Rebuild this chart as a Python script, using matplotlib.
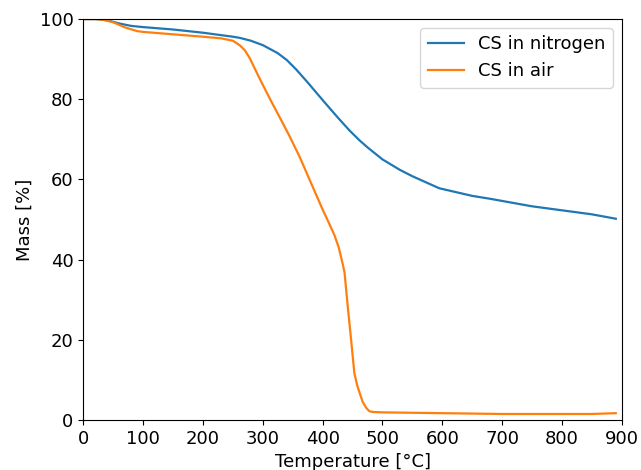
import numpy as np
import matplotlib
matplotlib.use("Agg")
import matplotlib.pyplot as plt

# TGA curves
temp_n2 = [0, 20, 30, 45, 60, 80, 100, 150, 200, 250, 262, 280, 300, 325, 340, 356,
           375, 400, 425, 445, 462, 475, 500, 529, 550, 595, 650, 679, 750, 800,
           850, 890]
mass_n2 = [100, 100, 99.9, 99.5, 98.9, 98.3, 98.0, 97.4, 96.6, 95.6, 95.3, 94.6, 93.5,
           91.5, 89.8, 87.4, 84.2, 79.8, 75.5, 72.2, 69.7, 68.0, 65.0, 62.4, 60.8,
           57.8, 55.9, 55.2, 53.3, 52.3, 51.3, 50.2]

temp_air = [0, 20, 35, 50, 70, 90, 100, 150, 200, 230, 250, 262, 270, 278, 290, 300,
            314, 330, 345, 362, 378, 400, 410, 420, 427, 431, 434, 436.7,
            439, 442, 447.6, 453, 458, 462, 467, 473, 478, 484, 500, 550, 600, 650,
            700, 750, 800, 850, 890]
mass_air = [100, 100, 99.8, 99.2, 97.9, 97.0, 96.8, 96.2, 95.6, 95.2, 94.6, 93.4, 92.2,
            90.3, 86.6, 83.6, 79.5, 75.0, 70.7, 65.5, 60.0, 52.5, 49.3, 46.0, 43.0,
            40.5, 38.6, 36.7, 33.0, 28.3, 20.0, 11.7, 8.5, 6.7, 4.5, 3.0,
            2.2, 2.0, 1.9, 1.8, 1.7, 1.6, 1.5, 1.5, 1.5, 1.5, 1.7]

plt.rcParams['font.size'] = 13

fig = plt.figure(figsize=(6.41, 4.70), dpi=100)
ax = fig.add_axes([0.130, 0.1064, 0.840, 0.853])

ax.plot(temp_n2, mass_n2, color='#1f77b4', lw=1.6, label='CS in nitrogen')
ax.plot(temp_air, mass_air, color='#ff7f0e', lw=1.6, label='CS in air')

ax.set_xlim(0, 900)
ax.set_ylim(0, 100)
ax.set_xticks(np.arange(0, 901, 100))
ax.set_yticks(np.arange(0, 101, 20))
ax.set_xlabel('Temperature [°C]', labelpad=4)
ax.set_ylabel('Mass [%]')
ax.legend(loc='upper right')

fig.savefig('out.png', dpi=100)
